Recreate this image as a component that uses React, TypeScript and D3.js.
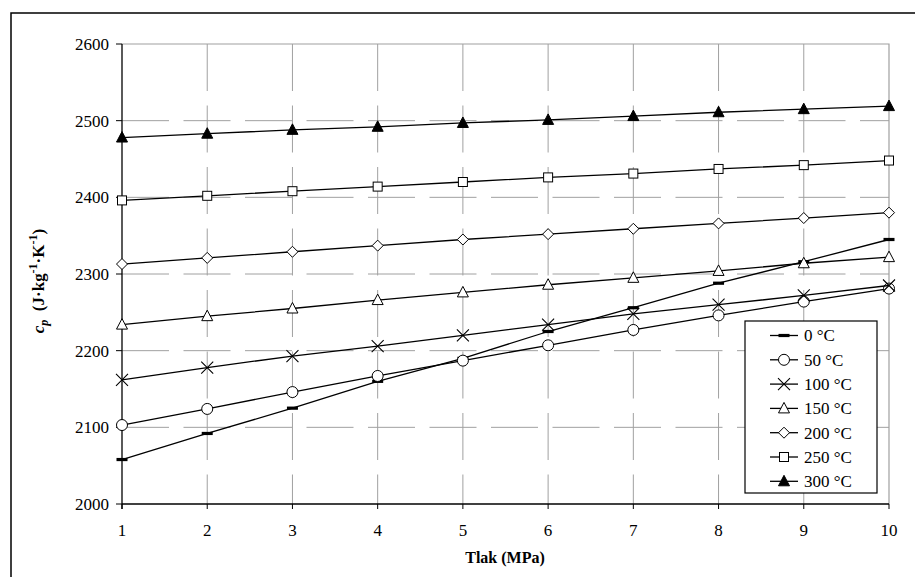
import React from 'react';
import * as d3 from 'd3';

// pressure (MPa)
const pressures = [1, 2, 3, 4, 5, 6, 7, 8, 9, 10];
const seriesNames = ['0 °C', '50 °C', '100 °C', '150 °C', '200 °C', '250 °C', '300 °C'];
const markers = ['bar', 'circle', 'x', 'triangle', 'diamond', 'square', 'triangleFilled'];

const cp0 = [2058, 2092, 2125, 2160, 2190, 2225, 2256, 2288, 2316, 2345];
const cp50 = [2103, 2124, 2146, 2167, 2187, 2207, 2227, 2246, 2264, 2281];
const cp100 = [2162, 2178, 2193, 2206, 2220, 2234, 2248, 2260, 2272, 2285];
const cp150 = [2234, 2245, 2255, 2266, 2276, 2286, 2295, 2304, 2314, 2322];
const cp200 = [2313, 2321, 2329, 2337, 2345, 2352, 2359, 2366, 2373, 2380];
const cp250 = [2396, 2402, 2408, 2414, 2420, 2426, 2431, 2437, 2442, 2448];
const cp300 = [2478, 2483, 2488, 2492, 2497, 2501, 2506, 2511, 2515, 2519];
const allSeries = [cp0, cp50, cp100, cp150, cp200, cp250, cp300];

const yTicks = [2000, 2100, 2200, 2300, 2400, 2500, 2600];

const W = 915;
const H = 577;
const left = 122;
const right = 889;
const top = 44;
const bottom = 504;
const font = "'Liberation Serif', 'Times New Roman', serif";

function Marker({ type, x, y }: { type: string; x: number; y: number }) {
  const s = 5.5;
  if (type === 'bar') return <rect x={x - 5.5} y={y - 1.6} width={11} height={3.2} fill="#000" />;
  if (type === 'circle') return <circle cx={x} cy={y} r={s} fill="#fff" stroke="#000" strokeWidth={1} />;
  if (type === 'x')
    return (
      <path d={`M${x - 6},${y - 6}L${x + 6},${y + 6}M${x - 6},${y + 6}L${x + 6},${y - 6}`} stroke="#000" strokeWidth={1.1} />
    );
  if (type === 'square')
    return <rect x={x - 4.5} y={y - 4.5} width={9} height={9} fill="#fff" stroke="#000" strokeWidth={1} />;
  if (type === 'diamond')
    return <path d={`M${x},${y - s}L${x + s},${y}L${x},${y + s}L${x - s},${y}Z`} fill="#fff" stroke="#000" strokeWidth={1} />;
  const filled = type === 'triangleFilled';
  return (
    <path
      d={`M${x},${y - 6}L${x + 5.5},${y + 4.5}L${x - 5.5},${y + 4.5}Z`}
      fill={filled ? '#000' : '#fff'}
      stroke="#000"
      strokeWidth={1}
    />
  );
}

export default function App() {
  const x = d3.scaleLinear().domain([1, 10]).range([left, right]);
  const y = d3.scaleLinear().domain([2000, 2600]).range([bottom, top]);
  const line = d3
    .line<number>()
    .x((_, i) => x(pressures[i]))
    .y((d) => y(d));

  const legX = 745;
  const legY = 321;
  const legRow = 24.3;
  const txt = { fontFamily: font };

  return (
    <svg
      width={W}
      height={H}
      style={{ position: 'absolute', left: 0, top: 0, background: '#fff', fontFamily: font }}
    >
      <rect x={0} y={0} width={W} height={H} fill="#fff" />
      <rect x={11} y={13} width={W + 20} height={H + 20} fill="none" stroke="#000" strokeWidth={1.5} />

      {/* grid */}
      {yTicks.slice(1, -1).map((t) => (
        <line key={'h' + t} x1={left} x2={right} y1={y(t)} y2={y(t)} stroke="#a0a0a0" strokeWidth={1} strokeDasharray="47 14.5" />
      ))}
      {pressures.slice(1, -1).map((p) => (
        <line key={'v' + p} x1={x(p)} x2={x(p)} y1={top} y2={bottom} stroke="#a0a0a0" strokeWidth={1} strokeDasharray="47 14.5" />
      ))}
      <path d={`M${left},${top}H${right}V${bottom}`} fill="none" stroke="#a0a0a0" strokeWidth={1.2} />

      {/* axes */}
      <line x1={left} x2={left} y1={top} y2={bottom + 5} stroke="#000" strokeWidth={1.3} />
      <line x1={left} x2={right} y1={bottom} y2={bottom} stroke="#000" strokeWidth={1.3} />
      {yTicks.map((t) => (
        <g key={'yt' + t}>
          <line x1={left - 6} x2={left} y1={y(t)} y2={y(t)} stroke="#000" strokeWidth={1} />
          <text x={109} y={y(t)} dy="0.35em" textAnchor="end" fontSize={17} style={txt}>
            {t}
          </text>
        </g>
      ))}
      {pressures.map((p) => (
        <g key={'xt' + p}>
          <line x1={x(p)} x2={x(p)} y1={bottom} y2={bottom + 5} stroke="#000" strokeWidth={1} />
          <text x={x(p)} y={536} textAnchor="middle" fontSize={17} style={txt}>
            {p}
          </text>
        </g>
      ))}

      <text x={505} y={563} textAnchor="middle" fontSize={16} fontWeight="bold" style={txt}>
        Tlak (MPa)
      </text>
      <text transform="translate(44,281) rotate(-90)" textAnchor="middle" fontSize={17} fontWeight="bold" style={txt}>
        <tspan fontStyle="italic">c</tspan>
        <tspan fontStyle="italic" fontSize={12} dy={4}>p</tspan>
        <tspan dy={-4}>{'\u00a0\u00a0(J·kg'}</tspan>
        <tspan fontSize={12} dy={-7}>-1</tspan>
        <tspan dy={7}>·K</tspan>
        <tspan fontSize={12} dy={-7}>-1</tspan>
        <tspan dy={7}>)</tspan>
      </text>

      {/* series */}
      {allSeries.map((s, k) => (
        <g key={'s' + k}>
          <path d={line(s) ?? ''} fill="none" stroke="#000" strokeWidth={1.3} />
          {s.map((v, i) => (
            <Marker key={i} type={markers[k]} x={x(pressures[i])} y={y(v)} />
          ))}
        </g>
      ))}

      {/* legend */}
      <rect x={legX} y={legY} width={132} height={172} fill="#fff" stroke="#000" strokeWidth={1.2} />
      {seriesNames.map((n, k) => {
        const ry = legY + 14.5 + k * legRow;
        return (
          <g key={'l' + k}>
            <line x1={770} x2={798} y1={ry} y2={ry} stroke="#000" strokeWidth={1.3} />
            <Marker type={markers[k]} x={784} y={ry} />
            <text x={804} y={ry} dy="0.35em" fontSize={17} style={txt}>
              {n}
            </text>
          </g>
        );
      })}
    </svg>
  );
}
